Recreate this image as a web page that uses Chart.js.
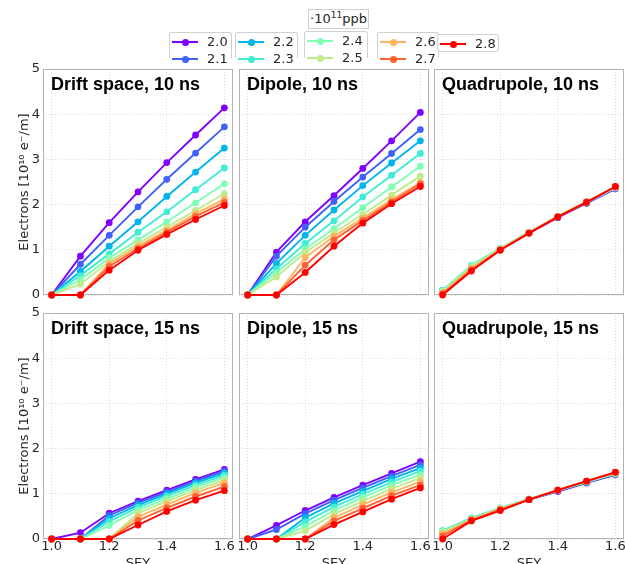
<!DOCTYPE html>
<html>
<head>
<meta charset="utf-8">
<script src="https://cdn.jsdelivr.net/npm/chart.js@4.4.1/dist/chart.umd.min.js"></script>
<style>
  html, body { margin: 0; padding: 0; background: #fff; overflow: hidden; }
  #fig { position: relative; width: 625px; height: 564px; overflow: hidden;
         font-family: "DejaVu Sans", sans-serif; color: #262626; }
  #fig canvas { position: absolute; }
  .box { position: absolute; background: #fff; border: 1px solid #d0d0d0; border-radius: 3px;
         z-index: 5; font-size: 13px; }
  .box.open { border-bottom: none; border-radius: 3px 3px 0 0; }
  .ent { position: absolute; left: 0; height: 0; width: 100%; }
  .ent .ln { position: absolute; left: 2px; width: 26px; height: 2px; top: -1px; }
  .ent .dot { position: absolute; left: 11.5px; width: 7px; height: 7px; border-radius: 50%; top: -3.5px; }
  .ent .tx { position: absolute; left: 37px; top: -8px; line-height: 16px; }
  #unit { position: absolute; left: 308px; top: 9px; width: 59px; height: 18px; border: 1px solid #d0d0d0;
          font-size: 13px; line-height: 18px; text-align: center; background: #fff; z-index: 5; }
  #unit sup { font-size: 9px; line-height: 0; }
</style>
</head>
<body>
<div id="fig">
  <div id="unit">·10<sup>11</sup>ppb</div>
</div>
<script>
// SEY scan: electron line density for 9 bunch intensities, 3 magnet types x 2 spacings

const sey = [1.0, 1.1, 1.2, 1.3, 1.4, 1.5, 1.6];
const ppb = ["2.0", "2.1", "2.2", "2.3", "2.4", "2.5", "2.6", "2.7", "2.8"];
const xTicks = [1.0, 1.2, 1.4, 1.6];
const yTicks = [0, 1, 2, 3, 4, 5];

// one row per intensity (2.0 ... 2.8)
const drift10 = [
  [0, 0.86, 1.60, 2.28, 2.93, 3.54, 4.14],
  [0, 0.68, 1.32, 1.95, 2.56, 3.14, 3.72],
  [0, 0.52, 1.08, 1.62, 2.18, 2.72, 3.25],
  [0, 0.43, 0.91, 1.39, 1.84, 2.33, 2.81],
  [0, 0.34, 0.82, 1.22, 1.62, 2.04, 2.46],
  [0, 0.24, 0.74, 1.14, 1.50, 1.87, 2.24],
  [0, 0, 0.69, 1.08, 1.43, 1.80, 2.12],
  [0, 0, 0.63, 1.03, 1.39, 1.74, 2.05],
  [0, 0, 0.55, 0.99, 1.34, 1.67, 1.98],
];
const dipole10 = [
  [0, 0.95, 1.62, 2.20, 2.80, 3.41, 4.04],
  [0, 0.86, 1.50, 2.07, 2.61, 3.13, 3.66],
  [0, 0.70, 1.32, 1.88, 2.42, 2.92, 3.41],
  [0, 0.58, 1.14, 1.64, 2.17, 2.65, 3.13],
  [0, 0.49, 1.02, 1.47, 1.93, 2.39, 2.85],
  [0, 0.40, 0.94, 1.37, 1.78, 2.21, 2.63],
  [0, 0, 0.83, 1.30, 1.70, 2.11, 2.49],
  [0, 0, 0.66, 1.22, 1.65, 2.06, 2.46],
  [0, 0, 0.50, 1.08, 1.59, 2.02, 2.40],
];
const quad10 = [
  [0.08, 0.60, 1.00, 1.37, 1.71, 2.03, 2.35],
  [0.09, 0.62, 1.01, 1.38, 1.72, 2.04, 2.36],
  [0.10, 0.64, 1.02, 1.38, 1.73, 2.05, 2.37],
  [0.10, 0.66, 1.03, 1.39, 1.73, 2.05, 2.37],
  [0.09, 0.65, 1.03, 1.39, 1.74, 2.06, 2.38],
  [0.07, 0.62, 1.02, 1.38, 1.74, 2.06, 2.38],
  [0.05, 0.59, 1.01, 1.38, 1.74, 2.06, 2.39],
  [0.03, 0.56, 1.00, 1.37, 1.73, 2.06, 2.39],
  [0, 0.53, 0.99, 1.37, 1.73, 2.05, 2.40],
];
const drift15 = [
  [0, 0.14, 0.57, 0.84, 1.08, 1.32, 1.54],
  [0, 0, 0.52, 0.80, 1.04, 1.28, 1.50],
  [0, 0, 0.46, 0.75, 1.00, 1.24, 1.46],
  [0, 0, 0.39, 0.70, 0.95, 1.19, 1.41],
  [0, 0, 0.30, 0.64, 0.89, 1.14, 1.36],
  [0, 0, 0, 0.57, 0.83, 1.08, 1.30],
  [0, 0, 0, 0.49, 0.76, 1.02, 1.24],
  [0, 0, 0, 0.41, 0.69, 0.94, 1.16],
  [0, 0, 0, 0.31, 0.61, 0.86, 1.07],
];
const dipole15 = [
  [0, 0.30, 0.63, 0.92, 1.19, 1.45, 1.71],
  [0, 0.21, 0.56, 0.86, 1.13, 1.39, 1.64],
  [0, 0, 0.47, 0.79, 1.06, 1.33, 1.57],
  [0, 0, 0.38, 0.71, 0.99, 1.26, 1.50],
  [0, 0, 0.28, 0.63, 0.92, 1.19, 1.42],
  [0, 0, 0.18, 0.55, 0.84, 1.11, 1.35],
  [0, 0, 0, 0.47, 0.76, 1.03, 1.27],
  [0, 0, 0, 0.40, 0.68, 0.96, 1.19],
  [0, 0, 0, 0.32, 0.60, 0.88, 1.13],
];
const quad15 = [
  [0.15, 0.44, 0.66, 0.87, 1.05, 1.24, 1.42],
  [0.17, 0.45, 0.67, 0.87, 1.06, 1.25, 1.43],
  [0.18, 0.46, 0.68, 0.88, 1.07, 1.26, 1.44],
  [0.18, 0.46, 0.68, 0.88, 1.07, 1.26, 1.44],
  [0.17, 0.45, 0.68, 0.88, 1.08, 1.27, 1.45],
  [0.15, 0.44, 0.67, 0.88, 1.08, 1.27, 1.45],
  [0.12, 0.43, 0.66, 0.87, 1.08, 1.28, 1.46],
  [0.07, 0.42, 0.65, 0.87, 1.08, 1.28, 1.47],
  [0, 0.40, 0.63, 0.87, 1.08, 1.28, 1.48],
];

// matplotlib "rainbow" sampled at 9 steps
const colors = ["#8000ff", "#4062fa", "#00b4ec", "#40ecd4", "#80ffb4",
                "#c0eb8d", "#ffb462", "#ff6232", "#ff0000"];

const panels = [
  { title: "Drift space, 10 ns", data: drift10, row: 0, col: 0 },
  { title: "Dipole, 10 ns", data: dipole10, row: 0, col: 1 },
  { title: "Quadrupole, 10 ns", data: quad10, row: 0, col: 2 },
  { title: "Drift space, 15 ns", data: drift15, row: 1, col: 0 },
  { title: "Dipole, 15 ns", data: dipole15, row: 1, col: 1 },
  { title: "Quadrupole, 15 ns", data: quad15, row: 1, col: 2 },
];

// ---- layout (px) ----
const colLeft = [43, 239, 434];
const rowTop = [69, 313];
const W = 190, H = 226;
const PAD = 12;          // spare room round each plot area
const XAXIS_H = 36;      // bottom row: tick labels + "SEY"

Chart.defaults.font.family = "'DejaVu Sans', sans-serif";
Chart.defaults.font.size = 13;
Chart.defaults.color = "#262626";

const framePlugin = {
  id: "frame",
  beforeDatasetsDraw(chart) {
    const { ctx, chartArea: a } = chart;
    ctx.save();
    ctx.strokeStyle = "#b3b3b3";
    ctx.lineWidth = 1;
    ctx.strokeRect(Math.round(a.left) + 0.5, Math.round(a.top) + 0.5,
      Math.round(a.width) - 1, Math.round(a.height) - 1);
    ctx.restore();
  },
  afterDraw(chart, args, opts) {
    const { ctx, chartArea: a } = chart;
    ctx.save();
    ctx.font = "bold 18px 'Liberation Sans', Arial, sans-serif";
    ctx.fillStyle = "#000";
    ctx.textBaseline = "middle";
    ctx.fillText(opts.text, a.left + 8, a.top + 16);
    ctx.restore();
  },
};

const fig = document.getElementById("fig");

panels.forEach((p) => {
  const first = p.col === 0, bottom = p.row === 1;
  const padL = first ? 0 : PAD;
  const yW = first ? 43 : 0;
  const xH = bottom ? XAXIS_H : 0;
  const padB = bottom ? 0 : PAD;
  const cw = padL + yW + W + PAD;
  const ch = PAD + H + xH + padB;

  const cv = document.createElement("canvas");
  cv.width = cw; cv.height = ch;
  cv.style.left = (colLeft[p.col] - padL - yW) + "px";
  cv.style.top = (rowTop[p.row] - PAD) + "px";
  cv.style.width = cw + "px"; cv.style.height = ch + "px";
  fig.appendChild(cv);

  new Chart(cv, {
    type: "line",
    data: {
      labels: sey,
      datasets: p.data.map((vals, i) => ({
        label: ppb[i],
        data: sey.map((x, j) => ({ x, y: vals[j] })),
        borderColor: colors[i],
        backgroundColor: colors[i],
        borderWidth: 1.9,
        pointRadius: 3.4,
        pointBorderWidth: 0,
        tension: 0,
        clip: false,
        order: ppb.length - i,
      })),
    },
    options: {
      responsive: false,
      animation: false,
      events: [],
      layout: { padding: { left: padL, right: PAD, top: PAD, bottom: padB } },
      plugins: { legend: { display: false }, tooltip: { enabled: false }, frame: { text: p.title } },
      scales: {
        x: {
          type: "linear", min: 0.97, max: 1.63,
          afterBuildTicks: (s) => { s.ticks = xTicks.map((v) => ({ value: v })); },
          afterFit: (s) => { s.height = xH; },
          ticks: { display: bottom, padding: 0, maxRotation: 0, autoSkip: false,
                   callback: (v) => v.toFixed(1) },
          grid: { color: "#cfcfcf", lineWidth: 0.8, drawTicks: false },
          border: { display: false, dash: [1, 2] },
          title: { display: bottom, text: "SEY", padding: { top: 0, bottom: 4 } },
        },
        y: {
          min: 0, max: 5,
          afterBuildTicks: (s) => { s.ticks = yTicks.map((v) => ({ value: v })); },
          afterFit: (s) => { s.width = yW; },
          ticks: { display: first, padding: 3 },
          grid: { color: "#cfcfcf", lineWidth: 0.8, drawTicks: false },
          border: { display: false, dash: [1, 2] },
          title: { display: first, text: "Electrons [10¹⁰ e⁻/m]", padding: { top: 17, bottom: 0 } },
        },
      },
    },
    plugins: [framePlugin],
  });
});

// ---- legend: five separate boxes, as in the original figure ----
const groups = [[0, 1], [2, 3], [4, 5], [6, 7], [8]];
const boxPos = [
  { x: 169, y: 32, w: 61, h: 25 },
  { x: 235, y: 32, w: 61, h: 25 },
  { x: 304, y: 31, w: 62, h: 26 },
  { x: 377, y: 32, w: 60, h: 25 },
  { x: 437, y: 34, w: 60, h: 16 },
];
groups.forEach((g, k) => {
  const b = boxPos[k];
  const box = document.createElement("div");
  box.className = "box" + (g.length > 1 ? " open" : "");
  Object.assign(box.style, { left: b.x + "px", top: b.y + "px", width: b.w + "px", height: b.h + "px" });
  g.forEach((i, r) => {
    const e = document.createElement("div");
    e.className = "ent";
    e.style.top = (r === 0 ? 9 : 26) + "px";
    e.innerHTML = `<span class="ln" style="background:${colors[i]}"></span>` +
      `<span class="dot" style="background:${colors[i]}"></span><span class="tx">${ppb[i]}</span>`;
    box.appendChild(e);
  });
  fig.appendChild(box);
});
</script>
</body>
</html>
